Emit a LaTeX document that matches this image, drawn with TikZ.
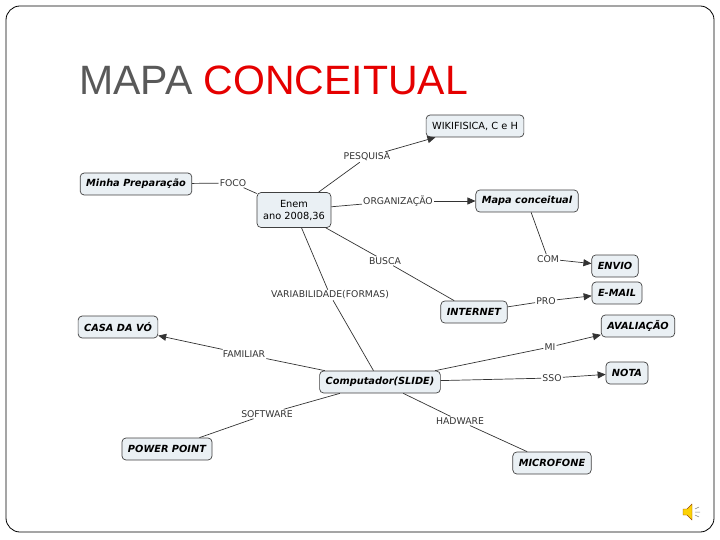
\documentclass[tikz,border=0pt]{standalone}
\usepackage{fontspec}
\setmainfont{DejaVu Sans}
\newfontfamily\titlefont{Liberation Sans}
\usetikzlibrary{arrows.meta}
\begin{document}
\begin{tikzpicture}[x=1pt,y=-1pt,
  box/.style={draw=black!75,fill={rgb,255:red,234;green,240;blue,244},rounded corners=4pt,line width=0.7pt,inner xsep=6pt,inner ysep=3pt,font=\fontsize{9.8}{11}\selectfont\bfseries\itshape,minimum height=22pt},
  pbox/.style={box,font=\fontsize{9.8}{12}\selectfont,align=center},
  lab/.style={inner sep=1pt,font=\fontsize{9.3}{10}\selectfont,text=black!80},
  ln/.style={draw=black!80,line width=0.7pt},
  ar/.style={ln,-{Triangle[length=8pt,width=7pt]}}]
\useasboundingbox (0,0) rectangle (720,540);
\draw[line width=0.8pt,rounded corners=14pt] (6,6) rectangle (714,532);
\node[anchor=west,font=\titlefont\fontsize{41}{44}\selectfont,inner sep=0pt] (title) at (79,80) {\textcolor{black!65}{MAPA} \textcolor{red!90!black}{CONCEITUAL}};
\node[pbox] (wiki) at (475,126) {WIKIFISICA, C e H};
\node[box] (minha) at (136,184) {Minha Preparação};
\node[pbox,minimum height=35pt] (enem) at (294,210) {Enem\\ano 2008,36};
\node[box] (mapa) at (527,201) {Mapa conceitual};
\node[box] (envio) at (615,266) {ENVIO};
\node[box] (email) at (617,293) {E-MAIL};
\node[box] (internet) at (474,312) {INTERNET};
\node[box] (casa) at (118,327) {CASA DA VÓ};
\node[box] (aval) at (638,326) {AVALIAÇÃO};
\node[box] (comp) at (380,382) {Computador(SLIDE)};
\node[box] (nota) at (627,373) {NOTA};
\node[box] (pp) at (167,449) {POWER POINT};
\node[box] (micro) at (552,463) {MICROFONE};
\node[lab] (pesq) at (367,157) {PESQUISA};
\node[lab] (foco) at (233,183) {FOCO};
\node[lab] (org) at (398,201) {ORGANIZAÇÃO};
\node[lab] (com) at (548,259) {COM};
\node[lab] (busca) at (385,261) {BUSCA};
\node[lab] (var) at (330,295) {VARIABILIDADE(FORMAS)};
\node[lab] (pro) at (546,301) {PRO};
\node[lab] (fam) at (244,354) {FAMILIAR};
\node[lab] (mi) at (550,347) {MI};
\node[lab] (sso) at (552,378) {SSO};
\node[lab] (soft) at (267,414) {SOFTWARE};
\node[lab] (had) at (460,421) {HADWARE};
\draw[ln] (enem) -- (pesq); \draw[ar] (pesq) -- (wiki);
\draw[ln] (minha) -- (foco) -- (enem);
\draw[ln] (enem) -- (org); \draw[ar] (org) -- (mapa);
\draw[ln] (mapa) -- (com); \draw[ar] (com) -- (envio);
\draw[ln] (enem) -- (busca) -- (internet);
\draw[ln] (internet) -- (pro); \draw[ar] (pro) -- (email);
\draw[ln] (enem) -- (var) -- (comp);
\draw[ln] (comp) -- (fam); \draw[ar] (fam) -- (casa);
\draw[ln] (comp) -- (mi); \draw[ar] (mi) -- (aval);
\draw[ln] (comp) -- (sso); \draw[ar] (sso) -- (nota);
\draw[ln] (comp) -- (soft) -- (pp);
\draw[ln] (comp) -- (had) -- (micro);
% speaker icon
\begin{scope}[shift={(690,512)}]
\fill[yellow!70!orange,draw=orange!60!black,line width=0.4pt] (-7,-3) -- (-3,-3) -- (2,-8) -- (2,8) -- (-3,3) -- (-7,3) -- cycle;
\draw[black!50,line width=0.5pt] (5,-3) -- (9,-5) (5,0) -- (10,0) (5,3) -- (9,5);
\end{scope}
\end{tikzpicture}
\end{document}
